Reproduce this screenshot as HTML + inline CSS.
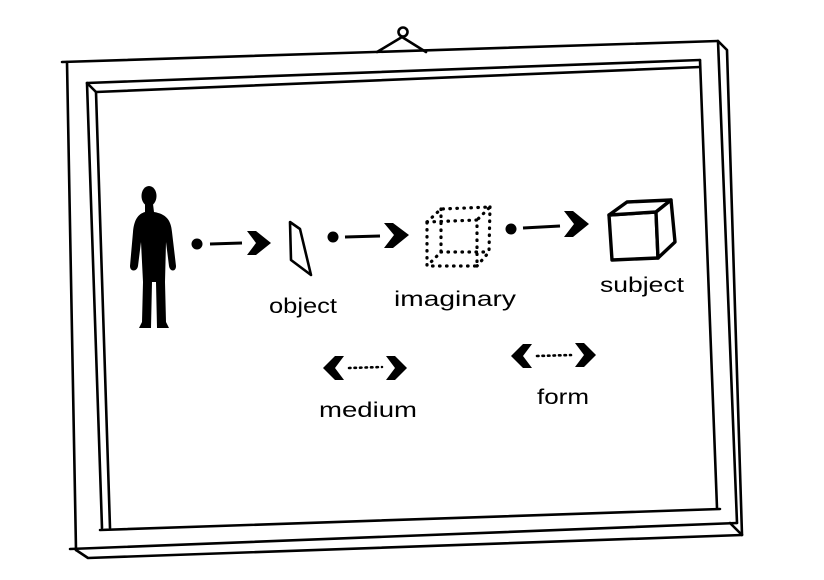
<!DOCTYPE html>
<html><head><style>html,body{margin:0;padding:0;background:#fff}svg{display:block}</style></head>
<body>
<svg width="824" height="580" viewBox="0 0 824 580" xmlns="http://www.w3.org/2000/svg">
<g fill="none" stroke="#000" stroke-width="2.6" stroke-linecap="round" stroke-linejoin="round">
<path d="M377,52 L402,37 L426,52"/>
<circle cx="403" cy="32" r="4.5"/>
<path d="M62,62 L718,41"/>
<path d="M67,62 L76,550"/>
<path d="M718,41 L737,523"/>
<path d="M718,41 L727,50 L742,535"/>
<path d="M70,549 L737,523"/>
<path d="M76,550 L88,558 L742,535"/>
<path d="M730,523 L742,535"/>
<path d="M87,83 L700,60"/>
<path d="M96,92 L700,67"/>
<path d="M87,83 L96,92"/>
<path d="M87,83 L102,528"/>
<path d="M96,92 L110,528"/>
<path d="M700,60 L717,508"/>
<path d="M100,530 L720,509"/>
</g>
<g fill="#000">
<ellipse cx="149" cy="196" rx="7.5" ry="10"/>
<path d="M145,204 L153,204 L154,212 C166,214 171,220 172,232 L176,266 C176,272 170,272 169,266 L166,242 L165,282 L166,322 L169,328 L157,328 L156,282 L152,282 L151,328 L139,328 L142,322 L143,282 L141,242 L138,266 C137,272 130,272 130,266 L133,232 C134,220 138,214 145,212 Z"/>
</g>
<g fill="#000" stroke="#000">
<circle cx="197" cy="244" r="5.5" stroke="none"/>
<path d="M210,244 L242,243" stroke-width="3" fill="none"/>
<path d="M247,231 L256,231 L271,243 L256,255 L247,255 L256,243 Z" stroke="none"/>
<circle cx="333" cy="237" r="5.5" stroke="none"/>
<path d="M345,237 L380,236" stroke-width="3" fill="none"/>
<path d="M384,223 L393,223 L409,235 L393,248 L384,248 L394,235 Z" stroke="none"/>
<circle cx="511" cy="229" r="5.5" stroke="none"/>
<path d="M523,228 L560,226" stroke-width="3" fill="none"/>
<path d="M564,211 L573,211 L589,224 L573,237 L564,237 L574,224 Z" stroke="none"/>
<path d="M344,356 L335,356 L323,368 L335,380 L344,380 L335,368 Z" stroke="none"/>
<path d="M386,356 L395,356 L407,368 L395,380 L386,380 L395,368 Z" stroke="none"/>
<path d="M349,368 L382,367" stroke-width="2.6" stroke-dasharray="1.5,4" fill="none" stroke-linecap="round"/>
<path d="M532,344 L523,344 L511,356 L523,368 L532,368 L523,356 Z" stroke="none"/>
<path d="M575,343 L584,343 L596,355 L584,367 L575,367 L584,355 Z" stroke="none"/>
<path d="M537,356 L571,355" stroke-width="2.6" stroke-dasharray="1.5,4" fill="none" stroke-linecap="round"/>
</g>
<path d="M290,222 L300,229 L311,275 L291,260 Z" fill="none" stroke="#000" stroke-width="2.6" stroke-linejoin="round"/>
<g fill="none" stroke="#000" stroke-width="3.2" stroke-dasharray="0.5,6.5" stroke-linecap="round">
<path d="M427,222 L477,220 L477,266 L427,266 Z"/>
<path d="M427,222 L441,209 L490,207 L477,220 M490,207 L489,252 L477,266"/>
<path d="M441,209 L441,252 L427,266 M441,252 L489,252"/>
</g>
<g fill="#fff" stroke="#000" stroke-width="3.4" stroke-linejoin="round">
<path d="M609,215 L656,212 L658,258 L612,260 Z"/>
<path d="M609,215 L627,202 L671,200 L656,212 Z"/>
<path d="M656,212 L671,200 L675,242 L658,258 Z"/>
</g>
<g font-family="'Liberation Sans', 'DejaVu Sans', sans-serif" font-size="21" fill="#000" text-anchor="middle">
<text x="303" y="313" textLength="68" lengthAdjust="spacingAndGlyphs">object</text>
<text x="455" y="306" textLength="122" lengthAdjust="spacingAndGlyphs">imaginary</text>
<text x="642" y="292" textLength="84" lengthAdjust="spacingAndGlyphs">subject</text>
<text x="368" y="417" textLength="98" lengthAdjust="spacingAndGlyphs">medium</text>
<text x="563" y="404" textLength="52" lengthAdjust="spacingAndGlyphs">form</text>
</g>
</svg>
</body></html>
